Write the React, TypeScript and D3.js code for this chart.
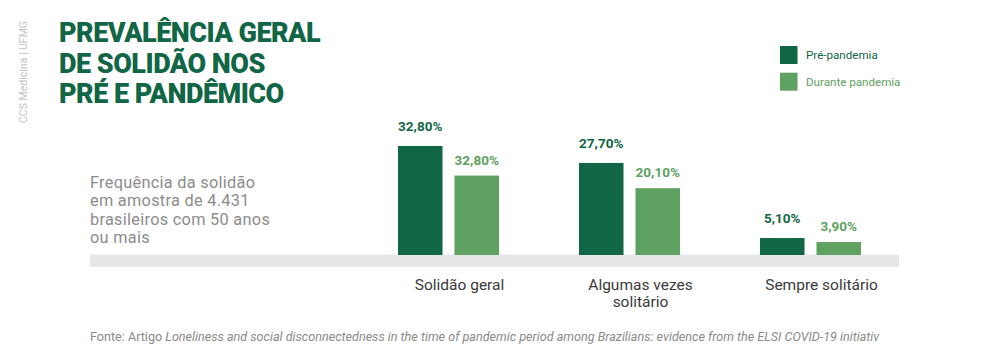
import React from "react";
import * as d3 from "d3";

const categories = ["Solidão geral", "Algumas vezes solitário", "Sempre solitário"];
const categoryLines = [["Solidão geral"], ["Algumas vezes", "solitário"], ["Sempre solitário"]];
const seriesNames = ["Pré-pandemia", "Durante pandemia"];
const preValues = [32.8, 27.7, 5.1];
const duringValues = [23.9, 20.1, 3.9];
const preLabels = ["32,80%", "27,70%", "5,10%"];
const duringLabels = ["32,80%", "20,10%", "3,90%"];
const titleLines = ["PREVALÊNCIA GERAL", "DE SOLIDÃO NOS", "PRÉ E PANDÊMICO"];
const descLines = ["Frequência da solidão", "em amostra de 4.431", "brasileiros com 50 anos", "ou mais"];

const DARK = "#116645";
const LIGHT = "#5fa160";
const FONT = "Roboto, 'Noto Sans', sans-serif";

export default function App() {
  const W = 1000, H = 357;
  const x0 = d3.scaleBand<string>().domain(categories).range([398, 861]).paddingInner(0.442).paddingOuter(0);
  const x1 = d3.scaleBand<string>().domain(seriesNames).range([0, x0.bandwidth()]).paddingInner(0.212).paddingOuter(0);
  const y = d3.scaleLinear().domain([0, 32.8]).range([255, 146]);
  const series = [
    { name: seriesNames[0], values: preValues, labels: preLabels, color: DARK, gap: 15 },
    { name: seriesNames[1], values: duringValues, labels: duringLabels, color: LIGHT, gap: 11 },
  ];
  const labelX = (c: string) => (x0(c) as number) + x0.bandwidth() / 2 + 11;
  return (
    <svg width={W} height={H} style={{ position: "absolute", left: 0, top: 0, background: "#fff" }} fontFamily={FONT}>
      <rect x={0} y={0} width={W} height={H} fill="#fff" />
      <text transform="translate(27,123) rotate(-90)" fontSize={10.5} fill="#c4c4c4">CCS Medicina | UFMG</text>
      {titleLines.map((t, i) => (
        <text key={t} x={59} y={42 + i * 30.7} fontSize={27} fontWeight={900} fill={DARK} letterSpacing={-0.5}>{t}</text>
      ))}
      {descLines.map((t, i) => (
        <text key={t} x={90} y={188 + i * 18.3} fontSize={16.3} letterSpacing={0.3} fill="#8c8c8c">{t}</text>
      ))}
      <rect x={90} y={254.5} width={809} height={12.5} fill="#e6e7e8" />
      {series.map((s) => (
        <g key={s.name}>
          {categories.map((c, i) => {
            const bx = (x0(c) as number) + (x1(s.name) as number);
            return (
              <g key={c}>
                <rect x={bx} y={y(s.values[i])} width={x1.bandwidth()} height={y(0) - y(s.values[i])} fill={s.color} />
                <text x={bx + x1.bandwidth() / 2} y={y(s.values[i]) - s.gap} textAnchor="middle" fontSize={13.5} fontWeight={700} fill={s.color}>{s.labels[i]}</text>
              </g>
            );
          })}
        </g>
      ))}
      {categories.map((c, i) => (
        <text key={c} x={labelX(c)} y={290} textAnchor="middle" fontSize={15.5} fill="#3a3a3a">
          {categoryLines[i].map((l, j) => (
            <tspan key={l} x={labelX(c)} dy={j === 0 ? 0 : 16.5}>{l}</tspan>
          ))}
        </text>
      ))}
      {series.map((s, i) => (
        <g key={s.name}>
          <rect x={780} y={46 + i * 26.7} width={17.5} height={18} fill={s.color} />
          <text x={806} y={59 + i * 26.5} fontSize={11.6} fill={s.color}>{s.name}</text>
        </g>
      ))}
      <text x={90} y={341} fontSize={12.6} fill="#8a8a8a">
        Fonte: Artigo <tspan fontStyle="italic">Loneliness and social disconnectedness in the time of pandemic period among Brazilians: evidence from the ELSI COVID-19 initiativ</tspan>
      </text>
    </svg>
  );
}
